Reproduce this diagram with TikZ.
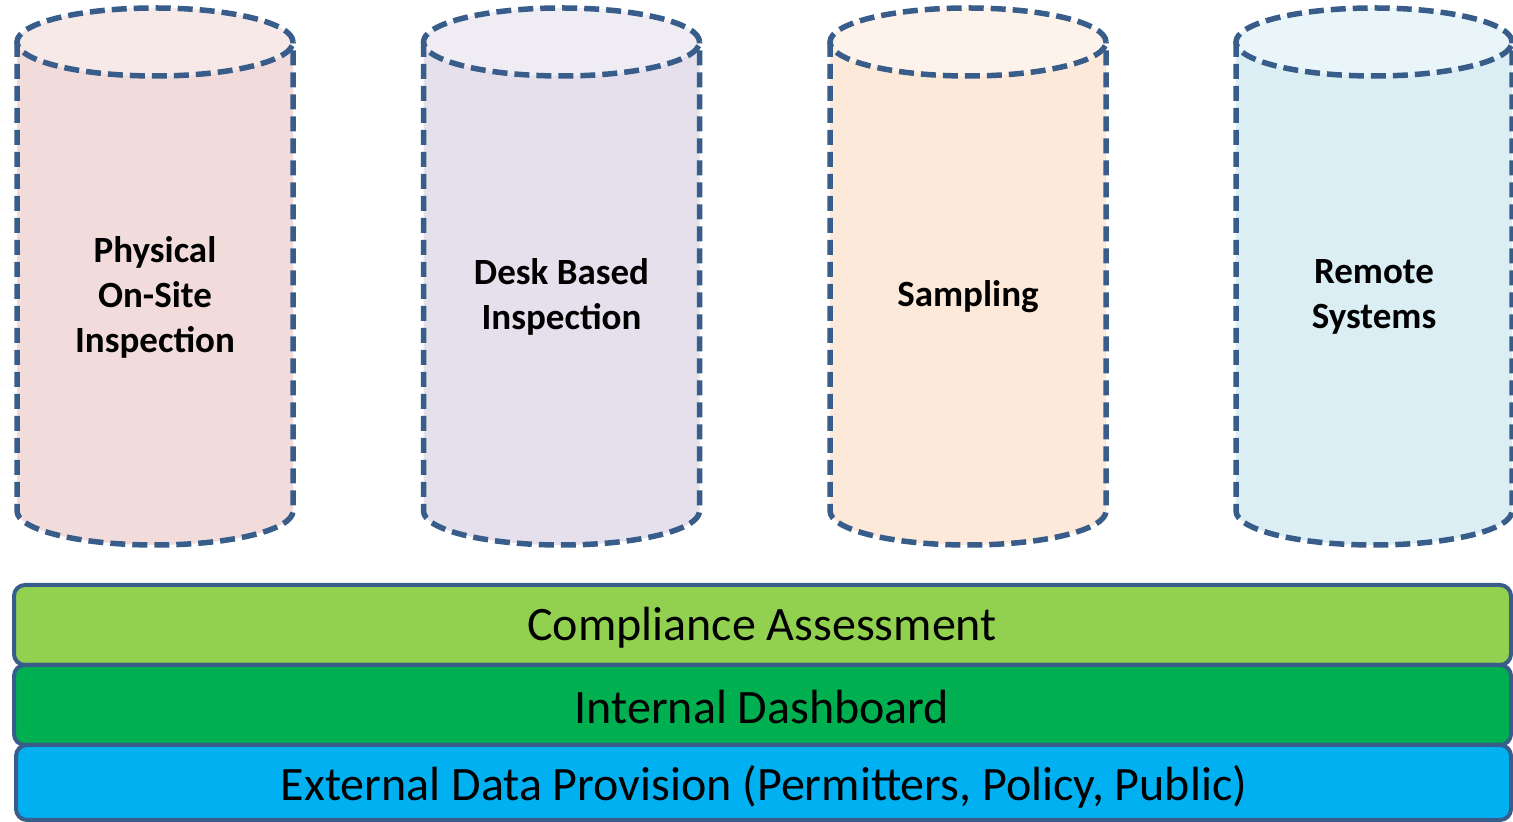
\documentclass[tikz,border=0pt]{standalone}
\usepackage{fontspec}
\setmainfont{Carlito}
\definecolor{edgeblue}{HTML}{385D8A}
\definecolor{bodyA}{HTML}{F2DCDB}\definecolor{topA}{HTML}{F7E9E8}
\definecolor{bodyB}{HTML}{E5E0EC}\definecolor{topB}{HTML}{EFECF4}
\definecolor{bodyC}{HTML}{FDE9D9}\definecolor{topC}{HTML}{FEF3EA}
\definecolor{bodyD}{HTML}{DBEEF4}\definecolor{topD}{HTML}{E9F5F9}
\definecolor{barA}{HTML}{92D050}
\definecolor{barB}{HTML}{00B050}
\definecolor{barC}{HTML}{00B0F0}
\begin{document}
\begin{tikzpicture}[x=1pt,y=1pt,
  cyledge/.style={draw=edgeblue,line width=5.5pt,dash pattern=on 15pt off 7pt},
  cyllabel/.style={font=\bfseries\fontsize{37}{45}\selectfont,align=center,text=black},
  barbox/.style={draw=edgeblue,line width=4pt,rounded corners=11pt},
  barlabel/.style={font=\fontsize{48}{56}\selectfont,text=black}]
\useasboundingbox (0,0) rectangle (1513,822);
\def\rx{138}\def\ry{34}\def\ytop{780}\def\ybot{311}
\foreach \cx/\bc/\tc/\nm/\txt in {155/bodyA/topA/c1/{Physical\\On-Site\\Inspection},
  561.5/bodyB/topB/c2/{Desk Based\\Inspection},
  968/bodyC/topC/c3/{Sampling},
  1374/bodyD/topD/c4/{Remote\\Systems}}{
  \fill[\bc] (\cx-\rx,\ytop) -- (\cx-\rx,\ybot) arc (180:360:\rx pt and \ry pt) -- (\cx+\rx,\ytop) arc (0:180:\rx pt and \ry pt) -- cycle;
  \fill[\tc] (\cx,\ytop) ellipse (\rx pt and \ry pt);
  \path[cyledge] (\cx-\rx,\ytop) -- (\cx-\rx,\ybot) arc (180:360:\rx pt and \ry pt) -- (\cx+\rx,\ytop);
  \path[cyledge] (\cx,\ytop) ellipse (\rx pt and \ry pt);
  \node[cyllabel] (\nm) at (\cx,525) {\txt};
}
\path[barbox,fill=barA] (14,157) rectangle (1511,237);
\path[barbox,fill=barB] (14,77) rectangle (1511,157);
\path[barbox,fill=barC] (16,2) rectangle (1511,77);
\node[barlabel] (ca) at (762,194) {Compliance Assessment};
\node[barlabel] (id) at (762,115) {Internal Dashboard};
\node[barlabel] (ed) at (764,35) {External Data Provision (Permitters, Policy, Public)};
\end{tikzpicture}
\end{document}
